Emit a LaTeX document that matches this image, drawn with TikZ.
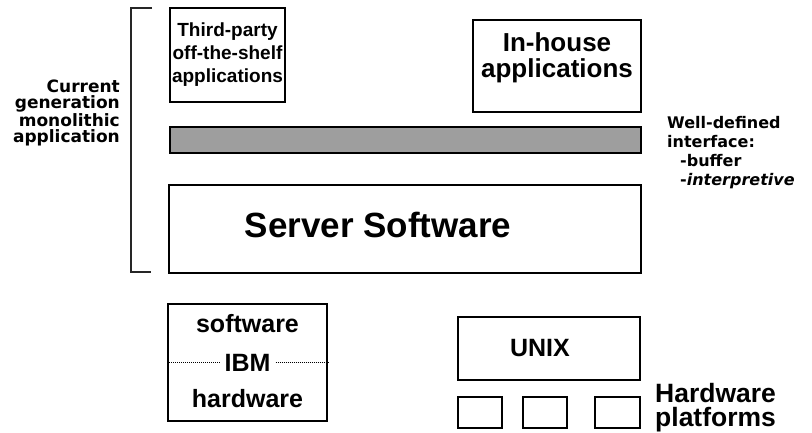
\documentclass[tikz,border=0pt]{standalone}
\usepackage{fontspec}
\setmainfont{Liberation Sans}
\newfontfamily\widefont{DejaVu Sans}
\usetikzlibrary{positioning}

\begin{document}
\begin{tikzpicture}[x=1pt,y=-1pt,on grid,
  appbox/.style={draw, rectangle, line width=1.8pt, inner sep=0pt, align=center},
  sidenote/.style={inner sep=0pt, font=\widefont\bfseries\fontsize{17}{16}\selectfont},
  ibmdots/.style={line width=1.6pt, dash pattern=on 1.2pt off 0.8pt}]

  \useasboundingbox (0,0) rectangle (812,432);

  \node[appbox, minimum width=115pt, minimum height=94pt, font=\bfseries\fontsize{19}{23}\selectfont] (ThirdParty) at (227.5,55) {Third-party\\off-the-shelf\\applications};
  \node[appbox, minimum width=168pt, minimum height=92pt, font=\bfseries\fontsize{26}{26}\selectfont] (InHouse) at (557,66) {In-house\\applications\\[-4pt]\mbox{}};

  \node[appbox, fill=black!38, minimum width=471pt, minimum height=26pt] (Iface) at (405.5,140) {};
  \node[appbox, minimum width=472pt, minimum height=88pt, text depth=7.5pt, font=\bfseries\fontsize{35}{40}\selectfont] (Server) at (405,229) {Server Software\hspace*{54pt}};

  \node[sidenote, align=right, anchor=east] (CurGen) at (120,113) {Current\\generation\\monolithic\\application};
  \node[sidenote, align=left, anchor=west, font=\widefont\bfseries\fontsize{16}{19}\selectfont] (IfaceNote) at (667,153) {Well-defined\\interface:\\\hspace*{13pt}-buffer\\\hspace*{13pt}-\textit{interpretive}};

  \draw[line width=1.1pt, black!85] (152,8) -- (131,8) -- (131,272) -- (151,272);

  \node[appbox, minimum width=159pt, minimum height=117pt] (IBMBox) at (247.5,362.5) {};
  \node[font=\bfseries\fontsize{25}{25}\selectfont, inner xsep=5pt] (IBM) at (IBMBox.center) {IBM};
  \node[font=\bfseries\fontsize{25}{25}\selectfont] (Soft) [above=39pt of IBM] {software};
  \node[font=\bfseries\fontsize{25}{25}\selectfont] (Hard) [below=36pt of IBM] {hardware};
  \draw[ibmdots] (IBMBox.west) -- (IBM.west);
  \draw[ibmdots] (IBM.east) -- (IBMBox.east);

  \node[appbox, minimum width=182pt, minimum height=63pt, font=\bfseries\fontsize{25}{25}\selectfont] (Unix) at (549,348.5) {UNIX\hspace*{18pt}};

  \node[appbox, minimum width=44pt, minimum height=31pt] (Hw1) at (480,412.5) {};
  \node[appbox, minimum width=44pt, minimum height=31pt] (Hw2) at (545,412.5) {};
  \node[appbox, minimum width=45pt, minimum height=31pt] (Hw3) at (617.5,412.5) {};
  \node[inner sep=0pt, anchor=west, align=left, font=\bfseries\fontsize{26.5}{24}\selectfont] (HwLabel) at (655,408) {Hardware\\platforms};

\end{tikzpicture}
\end{document}
